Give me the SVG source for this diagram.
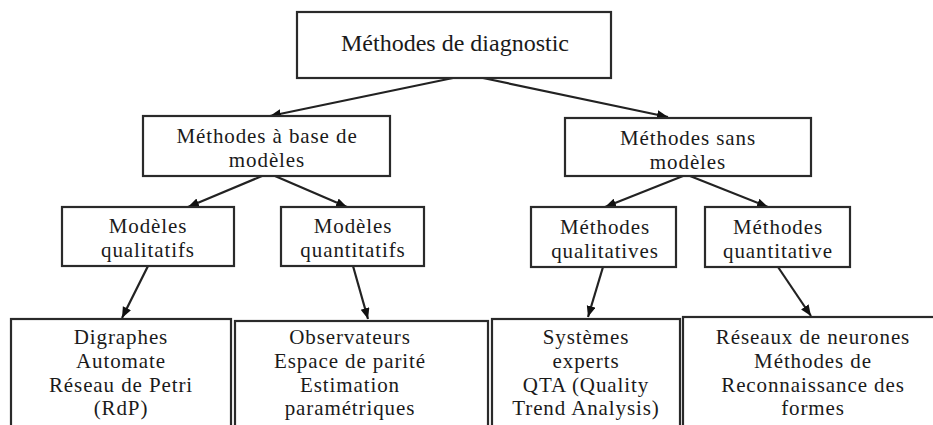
<svg xmlns="http://www.w3.org/2000/svg" width="933" height="425" viewBox="0 0 933 425">
<defs>
<style>
.box{fill:#fff;stroke:#2a2a2a;stroke-width:2.2}
.t{font-family:"Liberation Serif","Times New Roman",serif;font-size:21px;letter-spacing:0.9px;fill:#1a1a1a;text-anchor:middle}
.top{font-family:"Liberation Serif","Times New Roman",serif;font-size:24px;fill:#1a1a1a;text-anchor:middle}
.c{stroke:#222;stroke-width:2.2;fill:none;marker-end:url(#ah)}
</style>
<marker id="ah" markerUnits="userSpaceOnUse" markerWidth="12" markerHeight="10" refX="11" refY="4.5" orient="auto">
<path d="M0,0 L11,4.5 L0,9 z" fill="#111"/>
</marker>
</defs>
<rect width="933" height="425" fill="#fff"/>
<g id="connectors">
<line class="c" x1="453" y1="78" x2="270" y2="116"/>
<line class="c" x1="483" y1="78" x2="668" y2="117"/>
<line class="c" x1="262" y1="176" x2="188" y2="207"/>
<line class="c" x1="275" y1="176" x2="347" y2="207"/>
<line class="c" x1="683" y1="176" x2="605" y2="207"/>
<line class="c" x1="690" y1="176" x2="768" y2="207"/>
<line class="c" x1="148" y1="266" x2="122" y2="318"/>
<line class="c" x1="353" y1="266" x2="368" y2="319"/>
<line class="c" x1="603" y1="267" x2="588" y2="317"/>
<line class="c" x1="778" y1="267" x2="811" y2="316"/>
</g>
<g id="n-root">
<rect class="box" x="297" y="12" width="314" height="66"/>
<text class="top" x="455" y="51">Méthodes de diagnostic</text>
</g>
<g id="n-base-modeles">
<rect class="box" x="143" y="116" width="247" height="60"/>
<text class="t" x="267" y="143">Méthodes à base de</text>
<text class="t" x="267" y="167">modèles</text>
</g>
<g id="n-sans-modeles">
<rect class="box" x="565" y="118" width="246" height="58"/>
<text class="t" x="688" y="145">Méthodes sans</text>
<text class="t" x="688" y="168.5">modèles</text>
</g>
<g id="n-mod-qual">
<rect class="box" x="62" y="207" width="172" height="59"/>
<text class="t" x="148" y="233">Modèles</text>
<text class="t" x="148" y="256.5">qualitatifs</text>
</g>
<g id="n-mod-quant">
<rect class="box" x="281" y="207" width="143" height="59"/>
<text class="t" x="353" y="233">Modèles</text>
<text class="t" x="353" y="256.5">quantitatifs</text>
</g>
<g id="n-meth-qual">
<rect class="box" x="531" y="207" width="145" height="60"/>
<text class="t" x="605" y="234">Méthodes</text>
<text class="t" x="605" y="257.5">qualitatives</text>
</g>
<g id="n-meth-quant">
<rect class="box" x="705" y="207" width="145" height="60"/>
<text class="t" x="778" y="234">Méthodes</text>
<text class="t" x="778" y="257.5">quantitative</text>
</g>
<g id="n-digraphes">
<rect class="box" x="11" y="319" width="220" height="120"/>
<text class="t" x="121" y="344">Digraphes</text>
<text class="t" x="121" y="368">Automate</text>
<text class="t" x="121" y="391.5">Réseau de Petri</text>
<text class="t" x="121" y="415">(RdP)</text>
</g>
<g id="n-observateurs">
<rect class="box" x="235" y="321" width="253" height="120"/>
<text class="t" x="350" y="344">Observateurs</text>
<text class="t" x="350" y="368">Espace de parité</text>
<text class="t" x="350" y="391.5">Estimation</text>
<text class="t" x="350" y="415">paramétriques</text>
</g>
<g id="n-systemes">
<rect class="box" x="492" y="319" width="188" height="120"/>
<text class="t" x="586" y="344">Systèmes</text>
<text class="t" x="586" y="368">experts</text>
<text class="t" x="586" y="391.5">QTA (Quality</text>
<text class="t" x="586" y="415">Trend Analysis)</text>
</g>
<g id="n-reseaux">
<rect class="box" x="683" y="317" width="260" height="120"/>
<text class="t" x="813" y="344">Réseaux de neurones</text>
<text class="t" x="813" y="368">Méthodes de</text>
<text class="t" x="813" y="391.5">Reconnaissance des</text>
<text class="t" x="813" y="415">formes</text>
</g>
</svg>
